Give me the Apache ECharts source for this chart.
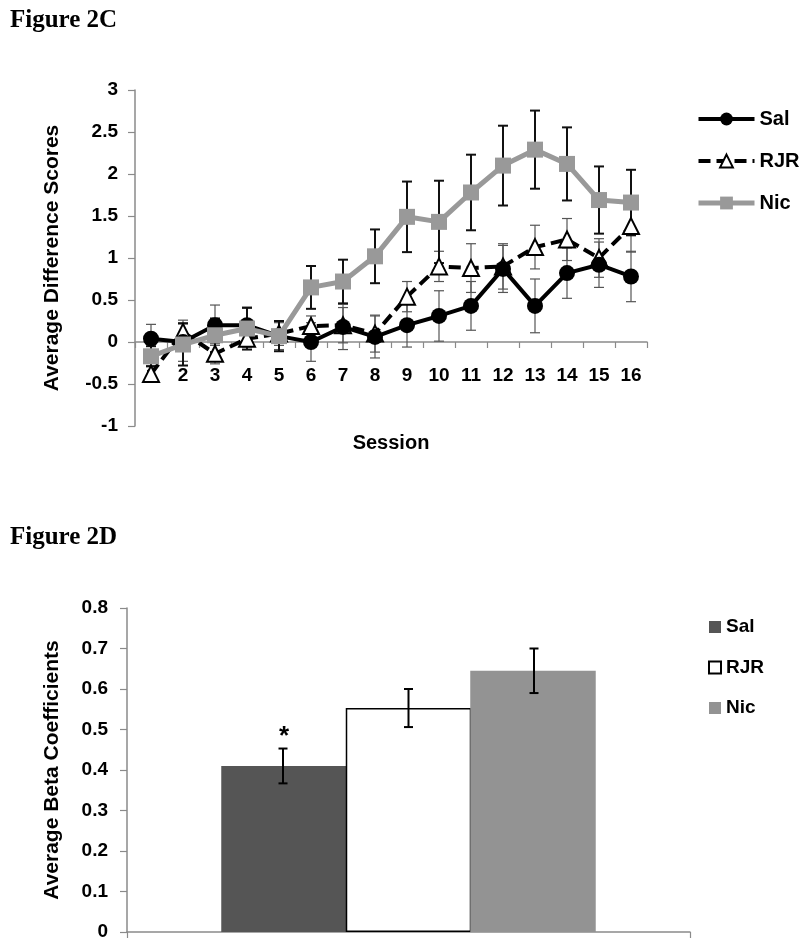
<!DOCTYPE html>
<html>
<head>
<meta charset="utf-8">
<script src="https://cdn.jsdelivr.net/npm/echarts@6/dist/echarts.min.js"></script>
<style>
  html, body { margin: 0; padding: 0; background: #fff; }
  #c1 { position: absolute; left: 0; top: 0; width: 800px; height: 474px; }
  #c2 { position: absolute; left: 0; top: 474px; width: 800px; height: 474px; }
</style>
</head>
<body>
<div id="c1"></div>
<div id="c2"></div>
<script>
// ---------- Figure 2C data ----------
const sessions = ['1','2','3','4','5','6','7','8','9','10','11','12','13','14','15','16'];
const salMean = [0.04, 0.0, 0.2, 0.2, 0.07, 0.0, 0.18, 0.06, 0.2, 0.31, 0.43, 0.87, 0.43, 0.82, 0.92, 0.78];
const salErr  = [0.17, 0.23, 0.24, 0.2, 0.16, 0.23, 0.27, 0.25, 0.26, 0.3, 0.29, 0.28, 0.32, 0.3, 0.27, 0.3];
const rjrMean = [-0.38, 0.12, -0.14, 0.04, 0.1, 0.19, 0.2, 0.1, 0.54, 0.9, 0.88, 0.9, 1.13, 1.22, 1.0, 1.38];
const rjrErr  = [0.1, 0.14, 0.12, 0.1, 0.14, 0.12, 0.21, 0.22, 0.18, 0.18, 0.29, 0.27, 0.26, 0.25, 0.23, 0.31];
const nicMean = [-0.17, -0.03, 0.08, 0.16, 0.07, 0.65, 0.72, 1.02, 1.49, 1.43, 1.78, 2.1, 2.29, 2.12, 1.69, 1.66];
const nicErr  = [0.12, 0.25, 0.2, 0.25, 0.18, 0.255, 0.26, 0.32, 0.42, 0.49, 0.45, 0.475, 0.465, 0.435, 0.4, 0.39];
const yTicksTop = ['-1','-0.5','0','0.5','1','1.5','2','2.5','3'];

// ---------- Figure 2D data ----------
const groups = ['Sal', 'RJR', 'Nic'];
const barCategories = [''];
const betaMean = [0.41, 0.553, 0.645];
const betaErr  = [0.043, 0.047, 0.055];
const sigMarks = ['*', '', ''];
const yTicksBottom = ['0','0.1','0.2','0.3','0.4','0.5','0.6','0.7','0.8'];

const SANS = 'Liberation Sans, Arial, sans-serif';
const SERIF = 'Liberation Serif, Times New Roman, serif';
const AXIS_GREY = '#8a8a8a';

function errData(mean, err) {
  return mean.map((m, i) => [i, m - err[i], m + err[i]]);
}
function errRender(color, width, cap) {
  return function (params, api) {
    const x = api.value(0);
    const p1 = api.coord([x, api.value(2)]);
    const p2 = api.coord([x, api.value(1)]);
    const st = { stroke: color, lineWidth: width };
    return { type: 'group', children: [
      { type: 'line', shape: { x1: p1[0], y1: p1[1], x2: p2[0], y2: p2[1] }, style: st },
      { type: 'line', shape: { x1: p1[0] - cap / 2, y1: p1[1], x2: p1[0] + cap / 2, y2: p1[1] }, style: st },
      { type: 'line', shape: { x1: p2[0] - cap / 2, y1: p2[1], x2: p2[0] + cap / 2, y2: p2[1] }, style: st }
    ]};
  };
}

const chart1 = echarts.init(document.getElementById('c1'), null, { renderer: 'canvas' });
chart1.setOption({
  animation: false,
  backgroundColor: '#fff',
  title: {
    text: 'Figure 2C', left: 5, top: 3,
    textStyle: { fontFamily: SERIF, fontWeight: 'bold', fontSize: 25, color: '#000' }
  },
  legend: {
    orient: 'vertical', left: 691, top: 103,
    itemWidth: 56, itemHeight: 16, itemGap: 20,
    data: [
      { name: 'Sal', lineStyle: { width: 4 } },
      { name: 'RJR', lineStyle: { width: 4 } },
      { name: 'Nic', lineStyle: { width: 5 } }
    ],
    textStyle: { fontFamily: SANS, fontWeight: 'bold', fontSize: 20, lineHeight: 22, color: '#000' }
  },
  grid: { left: 135, top: 90, width: 512, height: 336, containLabel: false, outerBoundsMode: 'none' },
  xAxis: {
    type: 'category', data: sessions, boundaryGap: true,
    name: 'Session', nameLocation: 'middle', nameGap: 7,
    nameTextStyle: { fontFamily: SANS, fontWeight: 'bold', fontSize: 20, color: '#000', verticalAlign: 'top' },
    axisLine: { onZero: true, lineStyle: { color: AXIS_GREY, width: 1.5 } },
    axisTick: { show: true, length: 6, lineStyle: { color: AXIS_GREY, width: 1.2 } },
    axisLabel: { margin: -60, fontFamily: SANS, fontWeight: 'bold', fontSize: 19, color: '#000' }
  },
  yAxis: {
    type: 'value', min: -1, max: 3, interval: 0.5,
    name: 'Average Difference Scores', nameLocation: 'middle', nameGap: 72,
    nameTextStyle: { fontFamily: SANS, fontWeight: 'bold', fontSize: 21, color: '#000' },
    axisLine: { show: true, lineStyle: { color: AXIS_GREY, width: 1.5 } },
    axisTick: { show: true, length: 7, lineStyle: { color: AXIS_GREY, width: 1.2 } },
    splitLine: { show: false },
    axisLabel: {
      margin: 17, fontFamily: SANS, fontWeight: 'bold', fontSize: 19, color: '#000',
      formatter: v => yTicksTop[Math.round((v + 1) / 0.5)]
    }
  },
  series: [
    { type: 'custom', name: 'errSal', z: 1, renderItem: errRender('#555', 1.2, 10),
      encode: { x: 0, y: [1, 2] }, data: errData(salMean, salErr), silent: true },
    { type: 'custom', name: 'errRJR', z: 1, renderItem: errRender('#555', 1.2, 10),
      encode: { x: 0, y: [1, 2] }, data: errData(rjrMean, rjrErr), silent: true },
    { type: 'custom', name: 'errNic', z: 1, renderItem: errRender('#111', 2, 10),
      encode: { x: 0, y: [1, 2] }, data: errData(nicMean, nicErr), silent: true },
    { type: 'line', name: 'RJR', data: rjrMean, z: 3,
      symbol: 'triangle', symbolSize: 16, showSymbol: true,
      lineStyle: { color: '#000', width: 4, type: [12, 6] },
      itemStyle: { color: '#fff', borderColor: '#000', borderWidth: 2 } },
    { type: 'line', name: 'Sal', data: salMean, z: 4,
      symbol: 'circle', symbolSize: 16, showSymbol: true,
      lineStyle: { color: '#000', width: 4 },
      itemStyle: { color: '#000' } },
    { type: 'line', name: 'Nic', data: nicMean, z: 5,
      symbol: 'rect', symbolSize: 16, showSymbol: true,
      lineStyle: { color: '#999', width: 5 },
      itemStyle: { color: '#999' } }
  ]
});

// ---------- Figure 2D ----------
const barW = 125.5;
const chart2 = echarts.init(document.getElementById('c2'), null, { renderer: 'canvas' });
const barColors = ['#555555', '#ffffff', '#939393'];
chart2.setOption({
  animation: false,
  backgroundColor: '#fff',
  title: {
    text: 'Figure 2D', left: 5, top: 46,
    textStyle: { fontFamily: SERIF, fontWeight: 'bold', fontSize: 25, color: '#000' }
  },
  legend: {
    orient: 'vertical', left: 703, top: 138, icon: 'rect',
    itemWidth: 12, itemHeight: 12, itemGap: 20.5,
    data: groups,
    textStyle: { fontFamily: SANS, fontWeight: 'bold', fontSize: 19, lineHeight: 20, color: '#000' }
  },
  grid: { left: 127, top: 134, width: 563, height: 324, containLabel: false, outerBoundsMode: 'none' },
  xAxis: {
    type: 'category', data: barCategories, boundaryGap: true,
    axisLine: { lineStyle: { color: AXIS_GREY, width: 1.5 } },
    axisTick: { show: true, length: 6, lineStyle: { color: AXIS_GREY, width: 1.2 } },
    axisLabel: { show: false }
  },
  yAxis: {
    type: 'value', min: 0, max: 0.8, interval: 0.1,
    name: 'Average Beta Coefficients', nameLocation: 'middle', nameGap: 64,
    nameTextStyle: { fontFamily: SANS, fontWeight: 'bold', fontSize: 21, color: '#000' },
    axisLine: { show: true, lineStyle: { color: AXIS_GREY, width: 1.5 } },
    axisTick: { show: true, length: 7, lineStyle: { color: AXIS_GREY, width: 1.2 } },
    splitLine: { show: false },
    axisLabel: {
      margin: 19, fontFamily: SANS, fontWeight: 'bold', fontSize: 19, color: '#000',
      formatter: v => yTicksBottom[Math.round(v / 0.1)]
    }
  },
  series: groups.map((g, i) => ({
    type: 'bar', name: g, data: [betaMean[i]], barWidth: barW, barGap: '-0.8%', z: 2 + i,
    itemStyle: i === 1
      ? { color: barColors[i], borderColor: '#000', borderWidth: 1.5 }
      : { color: barColors[i] },
    label: {
      show: sigMarks[i] !== '', position: 'top', distance: 16,
      formatter: () => sigMarks[i],
      fontFamily: SANS, fontWeight: 'bold', fontSize: 26, color: '#000'
    }
  })).concat([{
    type: 'custom', name: 'errBeta', z: 6, silent: true,
    encode: { x: 0, y: [1, 2] },
    data: betaMean.map((m, i) => [0, m - betaErr[i], m + betaErr[i], i]),
    renderItem: function (params, api) {
      const off = (api.value(3) - 1) * barW;
      const p1 = api.coord([0, api.value(2)]);
      const p2 = api.coord([0, api.value(1)]);
      const x = p1[0] + off, cap = 9;
      const st = { stroke: '#000', lineWidth: 2 };
      return { type: 'group', children: [
        { type: 'line', shape: { x1: x, y1: p1[1], x2: x, y2: p2[1] }, style: st },
        { type: 'line', shape: { x1: x - cap / 2, y1: p1[1], x2: x + cap / 2, y2: p1[1] }, style: st },
        { type: 'line', shape: { x1: x - cap / 2, y1: p2[1], x2: x + cap / 2, y2: p2[1] }, style: st }
      ]};
    }
  }])
});
</script>
</body>
</html>
